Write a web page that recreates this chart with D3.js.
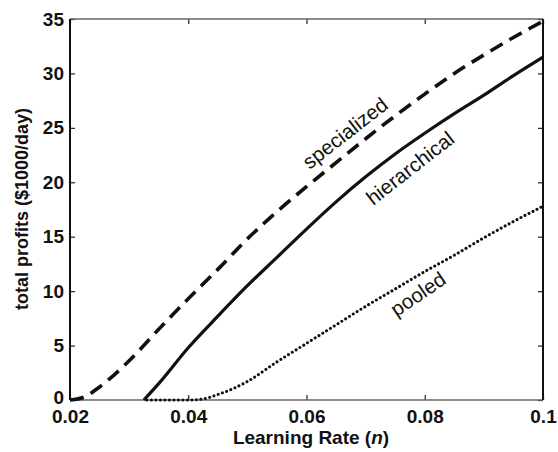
<!DOCTYPE html>
<html><head><meta charset="utf-8">
<script src="https://cdn.jsdelivr.net/npm/d3@7"></script>
<style>body{margin:0;background:#fff}svg{display:block}</style>
</head><body>
<script>
const xTicks = [0.02, 0.04, 0.06, 0.08, 0.1];
const xTickLabels = ["0.02", "0.04", "0.06", "0.08", "0.1"];
const yTicks = [0, 5, 10, 15, 20, 25, 30, 35];

const specializedX = [0.02, 0.0225, 0.025, 0.03, 0.035, 0.04, 0.045, 0.05, 0.055, 0.06, 0.065, 0.07, 0.075, 0.08, 0.085, 0.09, 0.095, 0.1];
const specializedY = [0, 0.3, 1.2, 3.6, 6.5, 9.3, 12.0, 14.8, 17.3, 19.6, 21.8, 24.0, 26.1, 28.1, 30.0, 31.7, 33.3, 34.8];

const hierarchicalX = [0.0325, 0.035, 0.04, 0.045, 0.05, 0.055, 0.06, 0.065, 0.07, 0.075, 0.08, 0.085, 0.09, 0.095, 0.1];
const hierarchicalY = [0, 1.5, 4.8, 7.7, 10.5, 13.1, 15.7, 18.2, 20.5, 22.6, 24.5, 26.3, 28.0, 29.8, 31.5];

const pooledX = [0.033, 0.04, 0.0425, 0.045, 0.05, 0.055, 0.06, 0.065, 0.07, 0.075, 0.08, 0.085, 0.09, 0.095, 0.1];
const pooledY = [0, 0, 0.1, 0.5, 1.7, 3.5, 5.2, 6.9, 8.6, 10.2, 11.8, 13.3, 14.9, 16.4, 17.8];

const W = 558, H = 452;
const L = 70, R = 543, T = 19, B = 400;
const svg = d3.select("body").append("svg").attr("width", W).attr("height", H);
const x = d3.scaleLinear().domain([0.02, 0.1]).range([L, R]);
const y = d3.scaleLinear().domain([0, 35]).range([B, T]);
const font = "'Liberation Sans', Arial, sans-serif";

// axes (MATLAB style, ticks inward on all sides)
const ax = svg.append("g");
const xb = ax.append("g").attr("transform", `translate(0,${B})`)
  .call(d3.axisBottom(x).tickValues(xTicks).tickFormat((d, i) => xTickLabels[i]).tickSizeInner(-5).tickSizeOuter(0).tickPadding(10));
const xt = ax.append("g").attr("transform", `translate(0,${T})`)
  .call(d3.axisTop(x).tickValues(xTicks).tickFormat("").tickSizeInner(-5).tickSizeOuter(0));
const yl = ax.append("g").attr("transform", `translate(${L},0)`)
  .call(d3.axisLeft(y).tickValues(yTicks).tickSizeInner(-5).tickSizeOuter(0).tickPadding(6));
const yr = ax.append("g").attr("transform", `translate(${R},0)`)
  .call(d3.axisRight(y).tickValues(yTicks).tickFormat("").tickSizeInner(-5).tickSizeOuter(0));
ax.selectAll("g").attr("font-family", font).attr("font-weight", "bold").attr("font-size", 19);
ax.selectAll(".domain").remove();
ax.selectAll(".tick line").attr("stroke", "#222").attr("stroke-width", 1.2);
ax.selectAll(".tick text").attr("fill", "#111");
xb.selectAll(".tick text").attr("dy", "0.71em");
yl.selectAll(".tick text").filter(d => d === 0).attr("dy", "0.2em");

// frame
svg.append("line").attr("x1", L).attr("x2", R).attr("y1", T).attr("y2", T).attr("stroke", "#666").attr("stroke-width", 1.5);
svg.append("line").attr("x1", L).attr("x2", R).attr("y1", B).attr("y2", B).attr("stroke", "#666").attr("stroke-width", 1.5);
svg.append("line").attr("x1", L).attr("x2", L).attr("y1", T).attr("y2", B).attr("stroke", "#111").attr("stroke-width", 2);
svg.append("line").attr("x1", R).attr("x2", R).attr("y1", T).attr("y2", B).attr("stroke", "#111").attr("stroke-width", 2);

const line = d3.line().x(d => x(d[0])).y(d => y(d[1])).curve(d3.curveMonotoneX);
const zip = (a, b) => a.map((v, i) => [v, b[i]]);

svg.append("path").datum(zip(pooledX, pooledY)).attr("d", line)
  .attr("fill", "none").attr("stroke", "#111").attr("stroke-width", 3)
  .attr("stroke-linecap", "round").attr("stroke-dasharray", "0.1 4.4");
svg.append("path").datum(zip(hierarchicalX, hierarchicalY)).attr("d", line)
  .attr("fill", "none").attr("stroke", "#111").attr("stroke-width", 3.2);
svg.append("path").datum(zip(specializedX, specializedY)).attr("d", line)
  .attr("fill", "none").attr("stroke", "#111").attr("stroke-width", 3.6)
  .attr("stroke-dasharray", "14 8");

// in-plot labels
const lab = [
  {t: "specialized", cx: 345, cy: 133, a: -38},
  {t: "hierarchical", cx: 410, cy: 168, a: -38},
  {t: "pooled", cx: 418, cy: 294, a: -34}
];
svg.selectAll(".lab").data(lab).enter().append("text")
  .attr("transform", d => `translate(${d.cx},${d.cy}) rotate(${d.a})`)
  .attr("text-anchor", "middle").attr("dy", "0.35em")
  .attr("font-family", font).attr("font-size", 20.5).attr("fill", "#111")
  .text(d => d.t);

// axis titles
const xl = svg.append("text").attr("x", 311).attr("y", 444).attr("text-anchor", "middle")
  .attr("font-family", font).attr("font-weight", "bold").attr("font-size", 19).attr("fill", "#111");
xl.append("tspan").text("Learning Rate (");
xl.append("tspan").attr("font-style", "italic").text("n");
xl.append("tspan").text(")");
svg.append("text").attr("transform", "translate(22,209) rotate(-90)").attr("text-anchor", "middle").attr("dy", "0.35em")
  .attr("font-family", font).attr("font-weight", "bold").attr("font-size", 18).attr("fill", "#111")
  .text("total profits ($1000/day)");
</script>
</body></html>
